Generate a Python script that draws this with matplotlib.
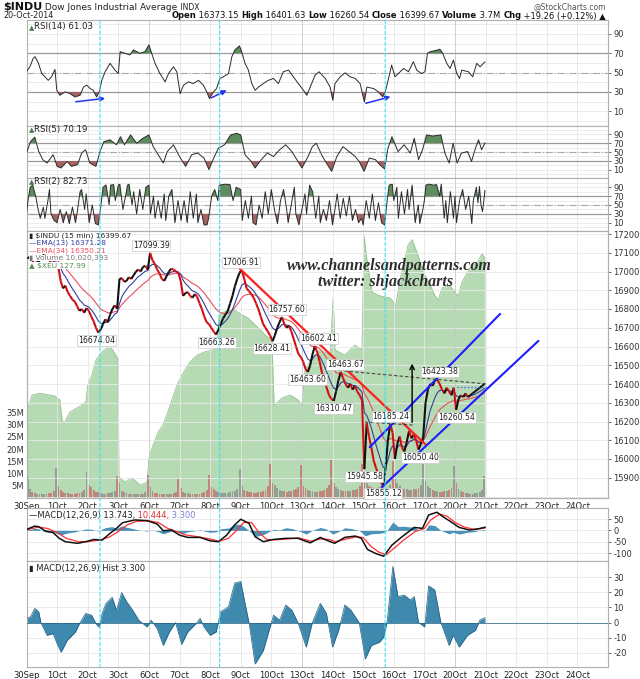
import numpy as np
import pandas as pd
import matplotlib
matplotlib.use("Agg")
import matplotlib.pyplot as plt
from matplotlib.collections import LineCollection
from matplotlib.patches import ConnectionPatch

plt.rcParams['font.family'] = ['DejaVu Sans']
plt.rcParams['axes.unicode_minus'] = False

# ------------------------------------------------------------------ data
day_labels = ["30Sep", "1Oct", "2Oct", "3Oct", "6Oct", "7Oct", "8Oct", "9Oct", "10Oct",
              "13Oct", "14Oct", "15Oct", "16Oct", "17Oct", "20Oct", "21Oct", "22Oct",
              "23Oct", "24Oct"]
cyan_days = [2.40, 6.31, 11.72]

# 15-min closes, sampled every 30 minutes (13 per session)
price_by_day = [
    [17070, 17080, 17060, 17030, 17040, 17060, 17080, 17090, 17070, 17060, 17050, 17030, 17043],
    [17029, 16950, 16910, 16925, 16890, 16870, 16850, 16840, 16815, 16790, 16800, 16780, 16805],
    [16790, 16760, 16735, 16700, 16674, 16690, 16720, 16745, 16730, 16770, 16800, 16820, 16801],
    [16960, 16965, 16945, 16950, 16970, 16960, 16980, 17000, 17010, 17000, 17025, 17030, 17010],
    [17099, 17060, 17040, 17010, 16990, 16960, 16950, 16975, 17000, 17015, 17010, 17000, 16992],
    [16950, 16870, 16885, 16890, 16870, 16860, 16880, 16865, 16830, 16800, 16760, 16730, 16719],
    [16700, 16680, 16663, 16690, 16720, 16750, 16770, 16790, 16830, 16870, 16920, 16960, 16994],
    [17007, 16960, 16910, 16895, 16880, 16860, 16830, 16800, 16760, 16720, 16700, 16680, 16659],
    [16628, 16660, 16700, 16730, 16757, 16720, 16700, 16710, 16680, 16640, 16600, 16560, 16544],
    [16520, 16480, 16464, 16500, 16560, 16602, 16570, 16520, 16460, 16420, 16380, 16340, 16321],
    [16310, 16360, 16420, 16463, 16430, 16400, 16380, 16400, 16370, 16390, 16360, 16340, 16315],
    [15946, 16190, 16120, 16060, 15990, 15950, 15920, 15880, 15855, 15950, 16100, 16185, 16141],
    [16000, 16080, 16120, 16060, 16040, 16090, 16150, 16110, 16130, 16100, 16050, 16080, 16117],
    [16300, 16370, 16400, 16390, 16420, 16423, 16400, 16370, 16350, 16380, 16360, 16340, 16380],
    [16262, 16320, 16340, 16330, 16350, 16330, 16340, 16350, 16360, 16370, 16380, 16390, 16400],
]

# volume in millions, same sampling
volume_by_day = [
    [8.6, 3.5, 2.6, 2.2, 1.8, 1.6, 1.5, 1.6, 1.7, 1.9, 2.2, 3.0, 12.3],
    [5.0, 3.2, 2.6, 2.2, 2.0, 1.8, 1.7, 1.8, 2.0, 2.2, 2.5, 3.4, 10.5],
    [5.2, 4.5, 3.2, 2.6, 2.4, 2.0, 1.8, 1.8, 2.0, 2.1, 2.4, 3.0, 9.0],
    [6.0, 3.0, 2.4, 2.0, 1.8, 1.6, 1.5, 1.5, 1.5, 1.6, 1.8, 2.5, 9.5],
    [4.5, 2.8, 2.2, 2.0, 1.8, 1.6, 1.5, 1.6, 1.7, 1.8, 2.0, 2.6, 7.6],
    [4.0, 2.6, 2.2, 2.0, 1.8, 1.6, 1.6, 1.7, 1.8, 2.0, 2.4, 3.2, 9.5],
    [4.6, 3.5, 2.8, 2.4, 2.2, 2.0, 1.9, 2.0, 2.4, 2.8, 3.0, 3.6, 12.0],
    [5.0, 3.4, 3.0, 2.6, 2.4, 2.2, 2.2, 2.4, 2.6, 3.0, 3.4, 5.0, 14.0],
    [6.0, 5.2, 4.0, 3.4, 3.0, 2.8, 2.6, 2.8, 3.0, 3.2, 3.6, 4.5, 13.5],
    [5.0, 4.0, 3.4, 3.0, 2.8, 2.6, 2.6, 2.8, 3.0, 3.4, 4.0, 5.5, 15.5],
    [6.0, 4.5, 3.6, 3.2, 3.0, 2.8, 2.8, 3.0, 3.2, 3.4, 3.8, 5.0, 14.0],
    [9.0, 6.0, 5.0, 4.5, 4.0, 4.2, 4.5, 5.0, 4.6, 4.0, 4.2, 5.5, 15.0],
    [8.0, 6.0, 5.0, 4.2, 3.8, 3.6, 3.4, 3.4, 3.6, 3.8, 4.0, 5.5, 15.7],
    [7.0, 5.0, 4.0, 3.4, 3.0, 2.8, 2.6, 2.6, 2.8, 3.0, 3.2, 4.2, 13.0],
    [6.0, 3.6, 2.8, 2.4, 2.2, 2.0, 1.8, 1.8, 2.0, 2.2, 2.6, 3.4, 9.0],
]

# $XEU (day, value)
xeu = [(0.0, 124.77), (0.18, 125.14), (0.44, 125.18), (0.77, 125.14), (0.93, 125.12), (1.09, 125.04),
       (1.16, 124.62), (1.23, 124.56), (1.42, 124.79), (1.75, 124.91), (1.94, 125.00), (2.0, 125.35),
       (2.14, 125.56), (2.27, 125.87), (2.47, 126.04), (2.73, 126.16), (2.92, 125.97), (2.99, 125.87),
       (3.02, 123.44), (3.22, 123.33), (3.45, 123.42), (3.71, 123.27), (3.94, 123.33), (4.0, 123.83),
       (4.10, 124.04), (4.30, 124.37), (4.46, 124.52), (4.62, 124.79), (4.75, 125.04), (4.92, 125.35),
       (5.08, 125.56), (5.34, 125.83), (5.57, 125.97), (5.83, 126.04), (6.09, 126.08), (6.23, 126.18),
       (6.29, 126.81), (6.52, 126.89), (6.78, 126.91), (6.98, 126.83), (7.24, 126.74), (7.57, 126.54),
       (7.83, 126.37), (8.02, 126.29), (8.09, 124.93), (8.35, 125.08), (8.61, 125.14), (8.87, 125.04),
       (9.0, 124.93), (9.10, 125.66), (9.33, 125.91), (9.59, 126.08), (9.92, 125.97), (10.02, 127.16),
       (10.08, 126.08), (10.4, 125.97), (10.73, 126.18), (10.96, 126.08), (11.03, 128.45), (11.13, 127.91),
       (11.29, 127.28), (11.55, 127.20), (11.88, 127.16), (12.07, 127.01), (12.2, 127.53), (12.47, 128.26),
       (12.6, 128.37), (12.79, 128.05), (12.96, 127.70), (13.19, 127.43), (13.35, 127.20), (13.45, 127.12),
       (13.58, 127.37), (13.84, 127.41), (14.0, 127.28), (14.1, 127.20), (14.23, 127.49), (14.49, 127.78),
       (14.75, 127.91), (14.88, 128.08), (14.98, 127.99)]

rsi14 = [(0.0, 50.9), (0.11, 56), (0.22, 64.8), (0.28, 66.5), (0.39, 59.6), (0.50, 49), (0.60, 45.7),
         (0.71, 42), (0.82, 45.7), (0.93, 53.3), (0.99, 31.7), (1.09, 26.5), (1.26, 30), (1.42, 28.3),
         (1.58, 24.8), (1.75, 26.5), (1.86, 35), (1.97, 37), (2.08, 33.5), (2.18, 31.7), (2.29, 24.8),
         (2.38, 30), (2.46, 42), (2.57, 50.9), (2.73, 59.6), (2.89, 52.6), (3.00, 49), (3.06, 71.7),
         (3.22, 70), (3.38, 68.3), (3.49, 73.5), (3.71, 70), (3.87, 71.7), (4.00, 78.7), (4.09, 70),
         (4.20, 59.6), (4.36, 49), (4.53, 40.4), (4.64, 49), (4.80, 56), (4.91, 50.9), (5.02, 28.3),
         (5.13, 37), (5.29, 40.4), (5.45, 38.7), (5.62, 42), (5.78, 37), (5.89, 30), (5.98, 23),
         (6.11, 30), (6.21, 33.5), (6.32, 43.9), (6.43, 45.7), (6.60, 49), (6.71, 66.5), (6.81, 73.5),
         (6.96, 77.7), (7.03, 71.7), (7.14, 59.6), (7.25, 52.6), (7.36, 38.7), (7.47, 31.7), (7.58, 35),
         (7.74, 38.7), (7.90, 42), (8.07, 43.9), (8.23, 38.7), (8.39, 50.9), (8.56, 52.6), (8.72, 45.7),
         (8.88, 38.7), (9.05, 31.7), (9.16, 26.5), (9.27, 35), (9.43, 47.4), (9.56, 50.9), (9.76, 43.9),
         (9.92, 35), (10.01, 21.3), (10.08, 38.7), (10.25, 45.7), (10.41, 49.8), (10.57, 45.7),
         (10.74, 43.9), (10.90, 38.7), (11.04, 19.6), (11.12, 35), (11.34, 33.5), (11.5, 30),
         (11.64, 24.8), (11.72, 30), (11.83, 43.9), (11.93, 57.8), (12.04, 45.7), (12.15, 49),
         (12.32, 54.3), (12.48, 50.9), (12.64, 61.3), (12.75, 52.6), (12.91, 49), (13.02, 50.9),
         (13.10, 70), (13.19, 71.7), (13.35, 72.8), (13.51, 74.2), (13.6, 70), (13.73, 59.6),
         (13.84, 54.3), (13.95, 63), (14.06, 49), (14.15, 43.9), (14.22, 52.6), (14.44, 50.9),
         (14.58, 45.7), (14.71, 59.6), (14.82, 56), (14.93, 59.6), (14.98, 61.03)]

rsi5 = [(0.0, 47.5), (0.13, 73), (0.27, 83), (0.4, 51), (0.53, 33), (0.67, 25.5), (0.87, 44), (1.0, 18),
        (1.13, 14.5), (1.33, 29), (1.47, 18), (1.67, 22), (1.8, 47.5), (1.93, 55), (2.07, 25.5),
        (2.27, 18), (2.4, 51), (2.53, 73), (2.73, 77), (2.94, 66), (3.07, 84), (3.2, 66), (3.4, 88),
        (3.6, 69.5), (3.8, 80.5), (4.0, 88), (4.14, 62), (4.27, 47.5), (4.47, 25.5), (4.6, 51),
        (4.8, 66), (5.0, 40), (5.2, 18), (5.4, 44), (5.6, 47.5), (5.8, 36.5), (5.96, 11), (6.14, 40),
        (6.27, 58.5), (6.47, 66), (6.67, 88), (6.87, 91.5), (7.0, 88), (7.14, 44), (7.34, 29),
        (7.47, 14.5), (7.67, 33), (7.87, 47.5), (8.07, 40), (8.27, 55), (8.47, 66), (8.67, 51),
        (8.87, 29), (9.0, 14.5), (9.2, 40), (9.34, 62), (9.47, 69.5), (9.67, 40), (9.8, 25.5),
        (9.97, 7), (10.14, 40), (10.34, 62), (10.54, 51), (10.74, 40), (10.87, 29), (11.03, 7),
        (11.2, 36.5), (11.4, 33), (11.54, 22), (11.7, 12.5), (11.81, 58.5), (11.94, 84), (12.14, 51),
        (12.34, 66), (12.54, 47.5), (12.67, 80.5), (12.81, 33), (12.94, 55), (13.07, 88), (13.27, 85.5),
        (13.54, 88), (13.67, 47.5), (13.81, 25.5), (13.94, 69.5), (14.07, 25.5), (14.21, 47.5),
        (14.41, 51), (14.54, 29), (14.67, 58.5), (14.77, 77), (14.87, 55), (14.98, 70.19)]

rsi2 = [(0.0, 30), (0.05, 60), (0.12, 90), (0.2, 95), (0.3, 70), (0.38, 40), (0.45, 20), (0.55, 45),
        (0.6, 20), (0.7, 60), (0.75, 85), (0.8, 30), (0.9, 15), (1.0, 10), (1.1, 40), (1.2, 10),
        (1.3, 35), (1.4, 8), (1.5, 45), (1.6, 10), (1.65, 30), (1.75, 80), (1.8, 85), (1.9, 40),
        (1.95, 75), (2.05, 10), (2.15, 50), (2.25, 8), (2.35, 5), (2.45, 60), (2.5, 90), (2.6, 95),
        (2.7, 50), (2.75, 95), (2.85, 96), (2.9, 60), (3.0, 95), (3.05, 97), (3.15, 40), (3.25, 75),
        (3.3, 95), (3.35, 97), (3.45, 50), (3.5, 80), (3.6, 30), (3.7, 85), (3.8, 40), (3.9, 90),
        (4.0, 95), (4.05, 30), (4.15, 70), (4.2, 20), (4.3, 60), (4.4, 20), (4.5, 75), (4.55, 15),
        (4.65, 70), (4.75, 85), (4.85, 10), (4.95, 60), (5.05, 15), (5.15, 60), (5.25, 10), (5.35, 80),
        (5.45, 20), (5.55, 75), (5.6, 10), (5.7, 40), (5.8, 5), (5.9, 5), (5.95, 20), (6.05, 70),
        (6.15, 85), (6.25, 60), (6.3, 95), (6.5, 97), (6.65, 96), (6.75, 60), (6.85, 90), (7.0, 85),
        (7.05, 15), (7.15, 60), (7.25, 20), (7.35, 70), (7.4, 10), (7.5, 5), (7.6, 50), (7.7, 20),
        (7.8, 80), (7.9, 30), (8.0, 85), (8.1, 40), (8.2, 8), (8.3, 60), (8.4, 85), (8.5, 40),
        (8.55, 10), (8.65, 50), (8.75, 90), (8.8, 30), (8.9, 5), (9.0, 40), (9.1, 75), (9.15, 30),
        (9.25, 95), (9.35, 80), (9.45, 20), (9.55, 70), (9.6, 10), (9.7, 40), (9.8, 15), (9.9, 60),
        (10.0, 5), (10.1, 50), (10.15, 75), (10.25, 20), (10.35, 65), (10.45, 25), (10.55, 70),
        (10.65, 15), (10.75, 40), (10.85, 10), (10.95, 20), (11.0, 5), (11.1, 60), (11.2, 20),
        (11.3, 75), (11.4, 15), (11.5, 55), (11.6, 10), (11.7, 5), (11.8, 70), (11.85, 95), (11.95, 97),
        (12.0, 60), (12.1, 90), (12.15, 20), (12.25, 80), (12.35, 30), (12.45, 85), (12.5, 40),
        (12.6, 95), (12.7, 10), (12.8, 50), (12.85, 8), (12.95, 40), (13.0, 60), (13.05, 95),
        (13.15, 97), (13.3, 95), (13.4, 96), (13.5, 70), (13.55, 97), (13.65, 20), (13.7, 60),
        (13.75, 10), (13.85, 80), (13.95, 20), (14.0, 70), (14.05, 10), (14.15, 60), (14.25, 85),
        (14.35, 40), (14.45, 70), (14.55, 8), (14.6, 60), (14.7, 90), (14.75, 55), (14.8, 92),
        (14.85, 50), (14.9, 35), (14.98, 82.73)]

macd_line = [(0.0, 4), (0.27, 19), (0.4, 16), (0.6, -1.5), (0.87, -10), (1.07, -35), (1.27, -50),
             (1.67, -57), (1.93, -50), (2.2, -40), (2.47, -43), (2.73, -13), (2.94, 9), (3.14, 34),
             (3.54, 46), (3.94, 43), (4.27, 28), (4.47, -1.5), (4.74, 1.5), (5.0, -21), (5.27, -31),
             (5.67, -31), (6.0, -46), (6.27, -50), (6.54, -21), (6.8, 24), (7.0, 49), (7.27, 31),
             (7.47, -28), (7.74, -50), (8.07, -40), (8.47, -35), (8.87, -35), (9.27, -55), (9.6, -31),
             (9.8, -43), (10.07, -57), (10.4, -31), (10.74, -25), (10.94, -35), (11.14, -84),
             (11.41, -102), (11.67, -114), (11.94, -65), (12.27, -28), (12.67, 13), (12.94, 9),
             (13.14, 68), (13.41, 80), (13.61, 60), (13.81, 43), (14.14, 13), (14.47, 1.5), (14.74, 6),
             (14.98, 13.743)]

macd_signal = [(0.0, 2), (0.4, 15), (0.7, 8), (1.0, -10), (1.3, -35), (1.7, -50), (2.0, -50), (2.4, -42),
               (2.7, -30), (3.0, -5), (3.3, 25), (3.6, 40), (4.0, 42), (4.3, 35), (4.6, 10), (4.9, -5),
               (5.2, -20), (5.6, -28), (6.0, -38), (6.3, -48), (6.6, -35), (6.9, 5), (7.1, 35),
               (7.35, 35), (7.6, -10), (7.85, -40), (8.1, -42), (8.5, -38), (8.9, -33), (9.3, -48),
               (9.6, -38), (9.9, -40), (10.1, -50), (10.45, -38), (10.8, -28), (11.0, -32), (11.25, -70),
               (11.5, -95), (11.75, -108), (12.0, -80), (12.3, -45), (12.7, -5), (13.0, 8), (13.2, 45),
               (13.5, 72), (13.75, 62), (14.0, 35), (14.3, 15), (14.6, 5), (14.85, 8), (14.98, 10.444)]

macd_hist = [(0.0, 2.7), (0.13, 3.8), (0.27, 9.3), (0.4, 7.1), (0.47, 0), (0.67, -8.4), (0.87, -7.3),
             (1.0, -14), (1.13, -19.6), (1.33, -11.8), (1.6, -6.2), (1.73, -0.7), (1.93, 6), (2.13, 4.9),
             (2.27, -0.7), (2.38, -3.3), (2.47, 6), (2.6, 12.7), (2.8, 16.7), (2.94, 8.2), (3.11, 19.8),
             (3.27, 13.8), (3.47, 8.2), (3.67, 1.6), (3.94, -2.9), (4.07, 1.6), (4.27, -4), (4.47, -15.1),
             (4.67, -6.2), (4.87, 0), (5.07, -14.4), (5.27, -6.2), (5.54, -0.7), (5.67, 2.7), (5.8, -2.9),
             (6.0, -8.4), (6.2, -6.2), (6.34, 7.1), (6.6, 10.4), (6.8, 26), (7.0, 27.1), (7.14, 12.7),
             (7.27, 0), (7.47, -27.3), (7.74, -18.4), (8.0, 0), (8.07, 4.9), (8.27, 1.6), (8.47, 11.6),
             (8.67, 8.2), (8.87, 0), (9.14, -16.2), (9.34, 0), (9.6, 12.7), (9.8, 6), (10.0, -16.2),
             (10.2, -5.1), (10.4, 11.6), (10.6, 8.2), (10.87, 0), (11.07, -24), (11.27, -15.1),
             (11.54, -12.9), (11.67, -9.6), (11.78, 0), (11.97, 37), (12.14, 17.1), (12.34, 18.2),
             (12.54, 14.9), (12.67, 17.1), (12.81, 0), (13.01, -2.9), (13.14, 24.2), (13.34, 21.6),
             (13.54, 0), (13.81, -15.1), (13.94, -8.4), (14.14, -16.2), (14.41, -8.4), (14.67, -5.1),
             (14.81, 1.6), (14.98, 3.3)]

# price labels: (day, price, is_high)
price_marks = [(4.07, 17099.39, True), (2.30, 16674.04, False), (6.22, 16663.26, False),
               (7.01, 17006.91, True), (8.02, 16628.41, False), (8.51, 16757.60, True),
               (9.17, 16463.60, False), (9.53, 16602.41, True), (10.02, 16310.47, False),
               (10.41, 16463.67, True), (11.03, 15945.58, False), (11.91, 16185.24, True),
               (11.65, 15855.12, False), (12.86, 16050.40, False), (13.51, 16423.38, True),
               (14.04, 16260.54, False)]

# hand-drawn lines (day, price)
red_trend = [(6.98, 17013), (13.02, 16080)]
blue_upper = [(11.22, 16064), (15.47, 16773)]
blue_lower = [(11.62, 15851), (16.72, 16629)]
dash_res1 = [(10.02, 16475), (15.05, 16400)]
dash_res2 = [(11.06, 16197), (12.63, 16181)]
blue_dots = [(14.07, 16384), (15.05, 16384)]
up_arrow = [(12.6, 16181), (12.6, 16523)]
rsi_arrows = [((1.52, 19.5), (2.66, 23.7)), ((5.96, 22.6), (6.62, 33.0)), ((11.0, 17.5), (11.98, 25.8))]

# ------------------------------------------------------------------ figure
W, H = 640, 679
fig = plt.figure(figsize=(W / 100, H / 100), dpi=100)
L, R = 26.5, 608.0
XMAX = 19.0


def add_ax(top, bottom):
    return fig.add_axes([L / W, 1 - bottom / H, (R - L) / W, (bottom - top) / H])


def unzip(pairs):
    a = np.array(pairs, dtype=float)
    return a[:, 0], a[:, 1]


def base_style(ax, ylim, yticks, hgrid):
    ax.set_xlim(0, XMAX)
    ax.set_ylim(*ylim)
    ax.yaxis.tick_right()
    ax.set_yticks(yticks)
    ax.tick_params(axis='y', labelsize=6, length=2, pad=2, colors='#333333', width=0.5)
    ax.set_xticks([])
    for s in ax.spines.values():
        s.set_color('#b0b0b0')
        s.set_linewidth(0.8)
    for v in hgrid:
        ax.axhline(v, color='#e9e9e9', lw=0.6, zorder=0)
    for d in range(1, 19):
        ax.axvline(d, color='#c9c9c9' if d in (4, 9, 14) else '#e6e6e6', lw=0.6, zorder=0)


def rsi_panel(ax, pairs, label, ylim, ytop):
    t, v = unzip(pairs)
    base_style(ax, ylim, [10, 30, 50, 70, 90], range(0, 101, 10))
    ax.axhline(70, color='#9a9a9a', lw=0.9, zorder=1)
    ax.axhline(30, color='#9a9a9a', lw=0.9, zorder=1)
    ax.axhline(50, color='#a8a8a8', lw=0.8, ls='-.', zorder=1)
    ax.fill_between(t, v, 70, where=v >= 70, interpolate=True, color='#5e8c5e', lw=0, zorder=2)
    ax.fill_between(t, v, 30, where=v <= 30, interpolate=True, color='#a36363', lw=0, zorder=2)
    ax.plot(t, v, color='#2a2a2a', lw=0.7, zorder=3)
    tx = ax.text(0.004, ytop, '\u25B2', transform=ax.transAxes, fontsize=5, color='#4d7a4d',
                 va='top', ha='left', zorder=9)
    ax.annotate(label, xy=(1, 0), xycoords=tx, fontsize=6.2, color='#222222', va='bottom',
                ha='left', zorder=9)


# ---------------- RSI panels
ax1 = add_ax(20, 126)
rsi_panel(ax1, rsi14, 'RSI(14) 61.03', (-5.3, 104.5), 0.955)
for (a, b) in rsi_arrows:
    ax1.annotate('', xy=b, xytext=a, arrowprops=dict(arrowstyle='-|>', color='#2233ee', lw=1.1,
                                                     mutation_scale=7), zorder=7)
ax2 = add_ax(126, 178)
rsi_panel(ax2, rsi5, 'RSI(5) 70.19', (-7.8, 107.8), 0.97)
ax3 = add_ax(178, 231)
rsi_panel(ax3, rsi2, 'RSI(2) 82.73', (-8.8, 111), 0.97)

# ---------------- main price panel
ax_x = add_ax(231, 498)
ax_x.set_xlim(0, XMAX)
ax_x.set_ylim(123.0, 128.55)
ax_x.set_yticks([])
xt, xv = unzip(xeu)
ax_x.fill_between(xt, xv, 123.0, color='#b6dab3', lw=0, zorder=1)
ax_x.plot(xt, xv, color='#93c290', lw=0.6, zorder=2)
for s in ax_x.spines.values():
    s.set_color('#b0b0b0')
    s.set_linewidth(0.8)

ax_v = ax_x.twinx()
ax_v.set_ylim(0, 109.4)
ax_v.yaxis.tick_left()
ax_v.set_yticks([5, 10, 15, 20, 25, 30, 35])
ax_v.set_yticklabels(['5M', '10M', '15M', '20M', '25M', '30M', '35M'])
ax_v.tick_params(axis='y', labelsize=6, length=0, pad=2, colors='#333333')
for s in ax_v.spines.values():
    s.set_visible(False)

ax_p = ax_x.twinx()
base_style(ax_p, (15792, 17216), list(range(15900, 17201, 100)), range(15800, 17201, 100))
ax_x.set_xticks(range(19))
ax_x.set_xticklabels(day_labels)
ax_x.tick_params(axis='x', labelsize=6, length=0, pad=3, colors='#222222')

ndays = len(price_by_day)
pt = np.array([d + (2 * k + 1) / 26 for d in range(ndays) for k in range(13)])
price = np.concatenate([np.array(p, float) for p in price_by_day])
vol = np.concatenate([np.array(v, float) for v in volume_by_day])
up = np.r_[True, price[1:] >= price[:-1]]

ax_v.bar(pt, vol, width=2 / 26 * 0.8, color=np.where(up, '#8a8a8a', '#c46a6a'), alpha=0.75,
         lw=0, zorder=2)

ema13 = pd.Series(price).ewm(span=6.5, adjust=False).mean().values
ema34 = pd.Series(price).ewm(span=17, adjust=False).mean().values
ax_p.plot(pt, ema34, color='#e8505e', lw=0.8, zorder=3)
ax_p.plot(pt, ema13, color='#3340a0', lw=0.8, zorder=3)

segs = [[(pt[i - 1], price[i - 1]), (pt[i], price[i])] for i in range(1, len(pt))]
cols = ['#111111' if up[i] else '#d01010' for i in range(1, len(pt))]
ax_p.add_collection(LineCollection(segs, colors=cols, linewidths=1.5, zorder=4))

ax_p.plot(*zip(*red_trend), color='#ff1f1f', lw=1.6, zorder=5)
ax_p.plot(*zip(*blue_upper), color='#1d1dff', lw=1.5, zorder=5)
ax_p.plot(*zip(*blue_lower), color='#1d1dff', lw=1.5, zorder=5)
ax_p.plot(*zip(*dash_res1), color='#444444', lw=0.8, ls=(0, (3, 2)), zorder=5)
ax_p.plot(*zip(*dash_res2), color='#444444', lw=0.8, ls=(0, (3, 2)), zorder=5)
ax_p.plot(*zip(*blue_dots), color='#4466ff', lw=1.0, ls=(0, (1, 1.5)), zorder=5)
ax_p.annotate('', xy=up_arrow[1], xytext=up_arrow[0],
              arrowprops=dict(arrowstyle='->', color='black', lw=1.0, mutation_scale=8), zorder=6)

for d, p, hi in price_marks:
    ax_p.annotate(f'{p:.2f}', xy=(d, p), xytext=(0, 5.5 if hi else -5.5), textcoords='offset points',
                  ha='center', va='center', fontsize=5.6, color='#222222', zorder=8,
                  bbox=dict(boxstyle='square,pad=0.12', fc='white', ec='#c8c8c8', lw=0.5))

ax_p.text(11.85, 17029, 'www.channelsandpatterns.com', fontsize=11.5, family='Liberation Serif',
          style='italic', weight='bold', color='#2e2e2e', ha='center', va='center', zorder=7)
ax_p.text(11.72, 16944, 'twitter: shjackcharts', fontsize=11.5, family='Liberation Serif',
          style='italic', weight='bold', color='#2e2e2e', ha='center', va='center', zorder=7)

# legend lines of the main panel
leg = [('\u25AE $INDU (15 min) 16399.67', '#222222'), ('\u2014EMA(13) 16371.28', '#3340a0'),
       ('\u2014EMA(34) 16350.21', '#e8505e'), ('\u25AE Volume 10,020,393', '#777777'),
       ('\u25B2 $XEU 127.99', '#4f8f4f')]
for i, (s, c) in enumerate(leg):
    ax_p.text(0.004, 0.996 - i * 0.0285, s, transform=ax_p.transAxes, fontsize=5.4, color=c,
              va='top', ha='left', zorder=9,
              bbox=dict(boxstyle='square,pad=0.02', fc='white', ec='none'))

# ---------------- MACD panel
ax4 = add_ax(508, 561)
base_style(ax4, (-135, 98.7), [-100, -50, 0, 50], [-100, -50, 0, 50])
ht, hv = unzip(macd_hist)
ax4.fill_between(ht, hv, 0, color='#4a92b8', lw=0, zorder=2)
mt, mv = unzip(macd_line)
st, sv = unzip(macd_signal)
ax4.plot(st, sv, color='#ff3030', lw=0.9, zorder=3)
ax4.plot(mt, mv, color='#111111', lw=1.1, zorder=4)
t0 = ax4.text(0.004, 0.95, '\u2014MACD(12,26,9) 13.743,', transform=ax4.transAxes, fontsize=6,
              color='#222222', va='top', ha='left', zorder=9)
t1 = ax4.annotate(' 10.444,', xy=(1, 0), xycoords=t0, fontsize=6, color='#e03030', va='bottom',
                  zorder=9)
ax4.annotate(' 3.300', xy=(1, 0), xycoords=t1, fontsize=6, color='#8080d0', va='bottom', zorder=9)

# ---------------- MACD histogram panel
ax5 = add_ax(561, 667)
base_style(ax5, (-29.3, 40.6), [-20, -10, 0, 10, 20, 30], [-20, -10, 0, 10, 20, 30])
ax5.fill_between(ht, hv, 0, color='#3f88ae', lw=0, zorder=2)
ax5.plot(ht, hv, color='#1f5f80', lw=0.5, zorder=3)
ax5.axhline(0, color='#1f5f80', lw=0.5, zorder=3)
ax5.set_xticks(range(19))
ax5.set_xticklabels(day_labels)
ax5.tick_params(axis='x', labelsize=6, length=0, pad=3, colors='#222222')
ax5.text(0.004, 0.975, '\u25AE MACD(12,26,9) Hist 3.300', transform=ax5.transAxes, fontsize=6,
         color='#222222', va='top', ha='left', zorder=9)

# cyan event lines spanning every panel
for c in cyan_days:
    con = ConnectionPatch(xyA=(c, ax1.get_ylim()[1]), coordsA=ax1.transData,
                          xyB=(c, ax5.get_ylim()[0]), coordsB=ax5.transData,
                          color='#40e0f0', lw=0.8, ls=(0, (3, 2)), zorder=20)
    fig.add_artist(con)


# ---------------- header
def ftext(x, y, s, **kw):
    return fig.text(x / W, 1 - y / H, s, **kw)


h0 = ftext(3, 7, '$INDU', fontsize=8, weight='bold', color='#111111', va='center', ha='left')
h1 = fig.add_artist(plt.Annotation(' Dow Jones Industrial Average', xy=(1, 0), xycoords=h0,
                                   fontsize=6.5, color='#222222', va='bottom'))
fig.add_artist(plt.Annotation(' INDX', xy=(1, 0), xycoords=h1, fontsize=5.5, color='#222222',
                              va='bottom'))
ftext(3, 16, '20-Oct-2014', fontsize=5.8, color='#222222', va='center', ha='left')
ftext(606, 7, '@StockCharts.com', fontsize=5.5, color='#555555', va='center', ha='right')

parts = [('Open', 'bold'), (' 16373.15 ', 'normal'), ('High', 'bold'), (' 16401.63 ', 'normal'),
         ('Low', 'bold'), (' 16260.54 ', 'normal'), ('Close', 'bold'), (' 16399.67 ', 'normal'),
         ('Volume', 'bold'), (' 3.7M ', 'normal'), ('Chg', 'bold'), (' +19.26 (+0.12%) \u25B2', 'normal')]
prev = ftext(606, 16, parts[-1][0], fontsize=6, weight=parts[-1][1], color='#111111',
             va='center', ha='right')
for s, w in reversed(parts[:-1]):
    prev = fig.add_artist(plt.Annotation(s, xy=(0, 0), xycoords=prev, fontsize=6, weight=w,
                                         color='#111111', va='bottom', ha='right'))

fig.savefig('out.png', dpi=100)
